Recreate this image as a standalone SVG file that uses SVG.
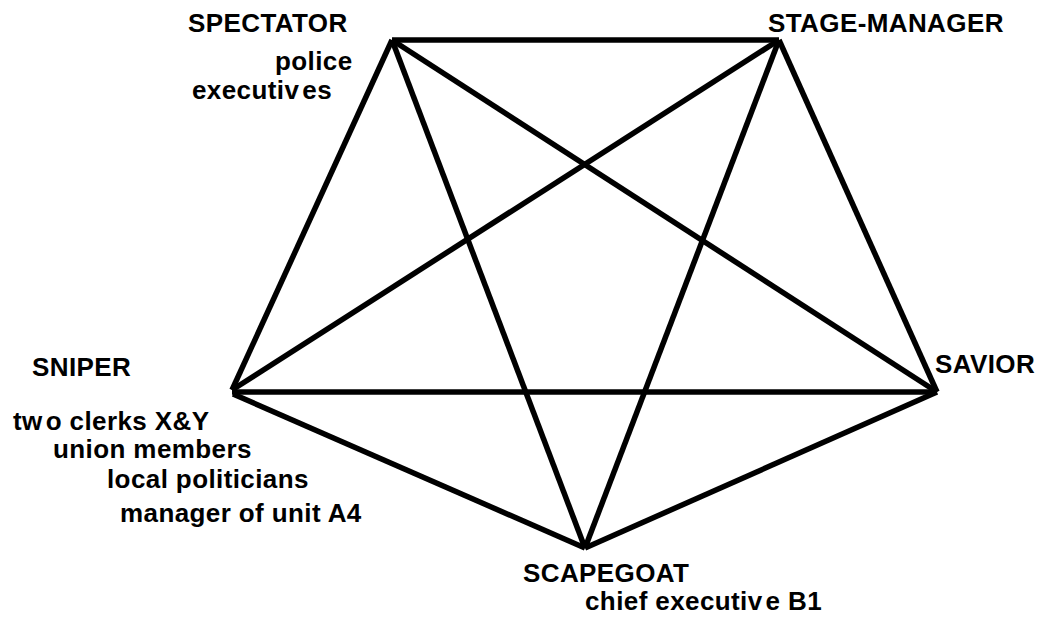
<svg xmlns="http://www.w3.org/2000/svg" width="1041" height="624" viewBox="0 0 1041 624">
<style>
.bg{fill:#fff}
.edge{stroke:#000;stroke-width:5.5;fill:none;stroke-linecap:butt}
text{font-family:"Liberation Sans",Arial,sans-serif;font-weight:bold;font-size:26px;fill:#000;letter-spacing:0.4px}
</style>
<rect class="bg" x="0" y="0" width="1041" height="624"/>
<g id="connectors">
<line class="edge" x1="392" y1="40" x2="779" y2="40"/>
<line class="edge" x1="392" y1="40" x2="232" y2="390"/>
<line class="edge" x1="392" y1="40" x2="937" y2="392"/>
<line class="edge" x1="392" y1="40" x2="585" y2="548"/>
<line class="edge" x1="779" y1="40" x2="232" y2="390"/>
<line class="edge" x1="779" y1="40" x2="585" y2="548"/>
<line class="edge" x1="779" y1="40" x2="937" y2="392"/>
<line class="edge" x1="232" y1="392" x2="937" y2="392"/>
<line class="edge" x1="233" y1="394" x2="585" y2="548"/>
<line class="edge" x1="585" y1="548" x2="937" y2="392"/>
</g>
<g id="spectator">
<text x="188" y="32">SPECTATOR</text>
<text x="275" y="70">police</text>
<text x="192" y="99">executiv<tspan dx="3">es</tspan></text>
</g>
<g id="stage-manager">
<text x="768" y="32">STAGE-MANAGER</text>
</g>
<g id="sniper">
<text x="32" y="376">SNIPER</text>
<text x="13" y="430">tw<tspan dx="3">o clerks X&amp;Y</tspan></text>
<text x="53" y="458">union members</text>
<text x="107" y="488">local politicians</text>
<text x="120" y="522">manager of unit A4</text>
</g>
<g id="savior">
<text x="935" y="373">SAVIOR</text>
</g>
<g id="scapegoat">
<text x="523" y="582">SCAPEGOAT</text>
<text x="585" y="610">chief executiv<tspan dx="3">e B1</tspan></text>
</g>
</svg>
